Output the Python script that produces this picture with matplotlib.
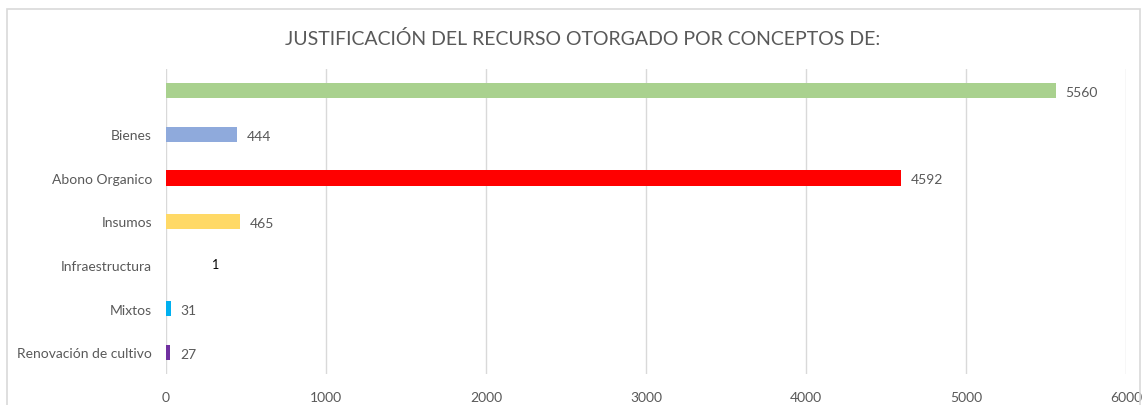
import matplotlib.pyplot as plt
from matplotlib.patches import Rectangle

plt.rcParams["font.family"] = ["Lato", "DejaVu Sans"]

# data, bottom to top
categories = ["Renovación de cultivo", "Mixtos", "Infraestructura", "Insumos",
              "Abono Organico", "Bienes", ""]
values = [27, 31, 1, 465, 4592, 444, 5560]
colors = ["#7030A0", "#00B0F0", "#5B9BD5", "#FFD966", "#FF0000", "#8FAADC", "#A9D18E"]
xticks = [0, 1000, 2000, 3000, 4000, 5000, 6000]
title = "JUSTIFICACIÓN DEL RECURSO OTORGADO POR CONCEPTOS DE:"

fig = plt.figure(figsize=(11.47, 4.06), dpi=100)
ax = fig.add_axes([0.1447, 0.0764, 0.9817 - 0.1447, 0.8276 - 0.0764])

# chart frame like the spreadsheet export
fig.patches.append(Rectangle((7 / 1147, -0.05), 1133 / 1147, 1.05 - 10 / 406,
                             transform=fig.transFigure, fill=False,
                             edgecolor="#D9D9D9", linewidth=1.2))

ypos = list(range(len(categories)))
ax.barh(ypos, values, height=0.35, color=colors, zorder=3)

for y, v in zip(ypos, values):
    if v == 1:
        # this label was dragged away from its bar in the original
        ax.annotate(str(v), (v, y), xytext=(33, 1), textcoords="offset points",
                    va="center", ha="left", fontsize=9, color="black")
    else:
        ax.annotate(str(v), (v, y), xytext=(7, -1), textcoords="offset points",
                    va="center", ha="left", fontsize=10, color="#595959")

ax.set_xlim(0, 6000)
ax.set_ylim(-0.5, 6.5)
ax.set_xticks(xticks)
ax.set_yticks(ypos)
ax.set_yticklabels(categories)
ax.tick_params(length=0, labelsize=10, colors="#595959", pad=10)
ax.tick_params(axis="x", pad=12)
ax.grid(axis="x", color="#D9D9D9", linewidth=1, zorder=0)
for s in ax.spines.values():
    s.set_visible(False)

fig.text(0.508, 0.905, title, ha="center", va="center", fontsize=14, color="#595959")

fig.savefig("out.png", dpi=100)
